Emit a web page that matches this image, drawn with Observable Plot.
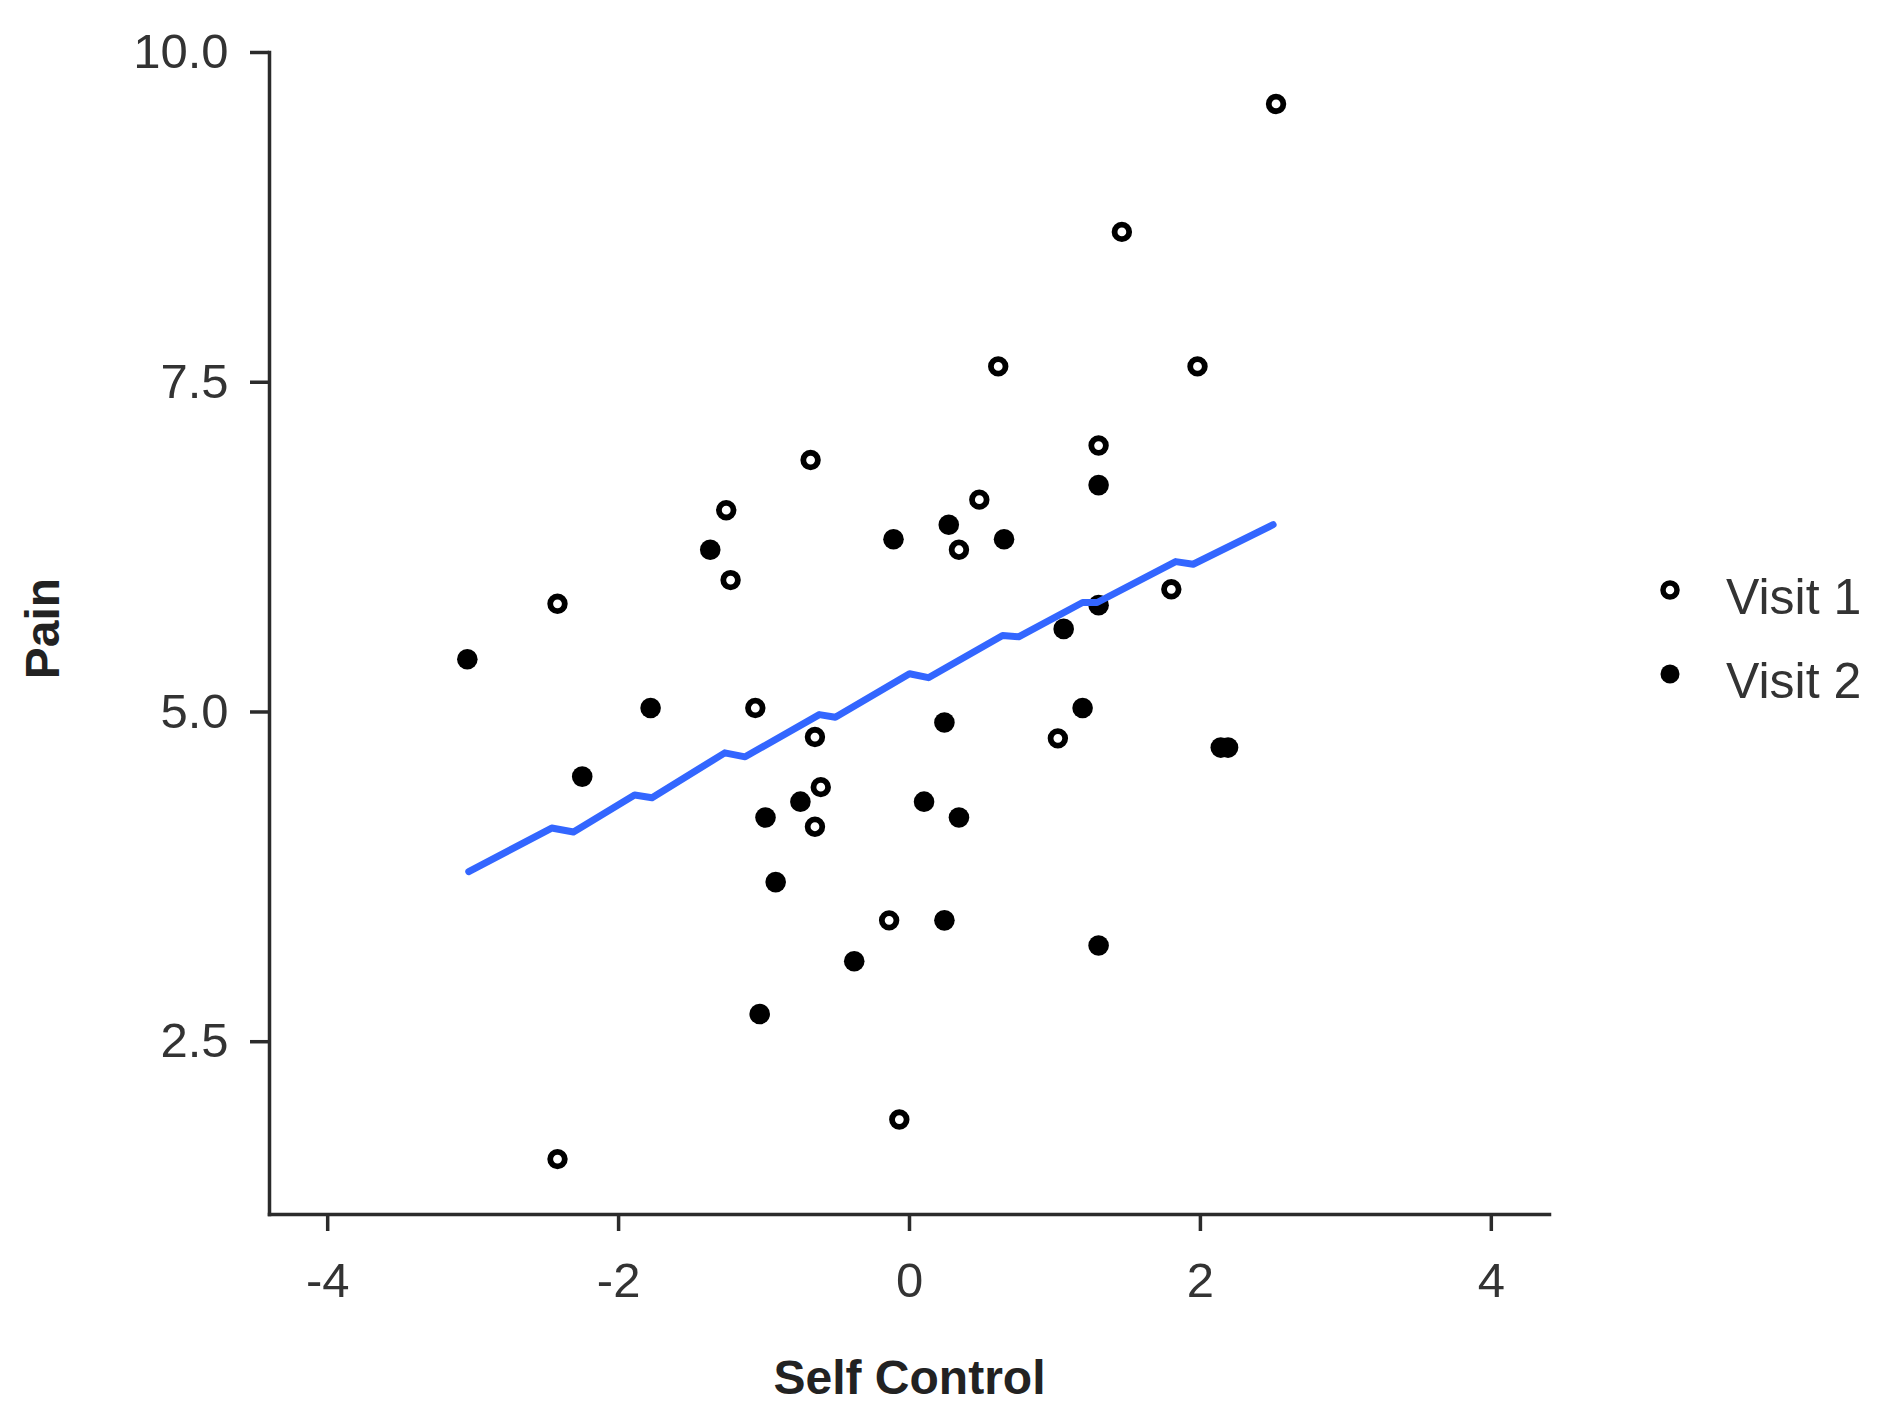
<!DOCTYPE html>
<html>
<head>
<meta charset="utf-8">
<script src="https://cdn.jsdelivr.net/npm/d3@7"></script>
<script src="https://cdn.jsdelivr.net/npm/@observablehq/plot@0.6"></script>
<style>
  html, body { margin: 0; padding: 0; background: #fff; }
  #wrap { position: relative; width: 1903px; height: 1427px; font-family: "Liberation Sans", Arial, sans-serif; }
  #legend { position: absolute; left: 1657px; top: 555px; }
  .item { display: flex; align-items: center; height: 84px; }
  .item svg { position: relative; top: -7px; margin-right: 43px; }
  .item span { font-size: 50px; line-height: 1; color: #333; }
</style>
</head>
<body>
<div id="wrap"><div id="legend"></div></div>
<script>
// ---- data ----
const seriesNames = ["Visit 1", "Visit 2"];

const visit1X = [2.52, 1.46, 0.61, 1.98, 1.30, -0.68, 0.48, -1.26, 0.34, -1.23, -2.42, 1.80, -1.06, -0.65, 1.02, -0.61, -0.65, -0.14, -0.07, -2.42];
const visit1Y = [9.61, 8.64, 7.62, 7.62, 7.02, 6.91, 6.61, 6.53, 6.23, 6.00, 5.82, 5.93, 5.03, 4.81, 4.80, 4.43, 4.13, 3.42, 1.91, 1.61];

const visit2X = [-3.04, -1.37, -0.11, 0.27, 0.65, 1.30, 1.06, 1.30, -1.78, -2.25, 1.19, 0.24, 2.14, 2.19, -0.75, -0.99, 0.10, 0.34, -0.92, 0.24, -0.38, 1.30, -1.03];
const visit2Y = [5.40, 6.23, 6.31, 6.42, 6.31, 6.72, 5.63, 5.81, 5.03, 4.51, 5.03, 4.92, 4.73, 4.73, 4.32, 4.20, 4.32, 4.20, 3.71, 3.42, 3.11, 3.23, 2.71];

const fitX = [-3.03, -2.46, -2.31, -1.89, -1.77, -1.27, -1.13, -0.62, -0.51, 0.00, 0.13, 0.64, 0.75, 1.19, 1.29, 1.83, 1.95, 2.50];
const fitY = [3.79, 4.12, 4.09, 4.37, 4.35, 4.69, 4.66, 4.98, 4.96, 5.29, 5.26, 5.58, 5.57, 5.83, 5.83, 6.14, 6.12, 6.42];

const xTicks = [-4, -2, 0, 2, 4];
const yTicks = [2.5, 5.0, 7.5, 10.0];
const xDomain = [-4.4, 4.4];
const yDomain = [1.19, 10];
const xLabel = "Self Control";
const yLabel = "Pain";

// ---- build tables ----
const v1 = visit1X.map((x, i) => ({x, y: visit1Y[i]}));
const v2 = visit2X.map((x, i) => ({x, y: visit2Y[i]}));
const fit = fitX.map((x, i) => ({x, y: fitY[i]}));

const ink = "#2b2b2b";
const blue = "#3366FF";

const chart = Plot.plot({
  width: 1903,
  height: 1427,
  marginLeft: 269,
  marginRight: 354,
  marginTop: 52,
  marginBottom: 213,
  style: {fontFamily: "'Liberation Sans', Arial, sans-serif", background: "white", color: ink},
  x: {domain: xDomain},
  y: {domain: yDomain},
  marks: [
    Plot.frame({anchor: "left", stroke: ink, strokeWidth: 3.5}),
    Plot.frame({anchor: "bottom", stroke: ink, strokeWidth: 3.5}),
    Plot.axisX({ticks: xTicks, tickSize: 17, tickPadding: 31, tickFormat: d => String(d),
      fontSize: 49, fill: "#333", stroke: ink, strokeWidth: 3.5, label: null}),
    Plot.axisY({ticks: yTicks, tickSize: 19, tickPadding: 22, tickFormat: d3.format(".1f"),
      fontSize: 49, fill: "#333", stroke: ink, strokeWidth: 3.5, label: null}),
    Plot.text([xLabel], {text: d => d, frameAnchor: "bottom", textAnchor: "middle", lineAnchor: "top", dy: 145,
      fontSize: 48, fontWeight: "bold", fill: "#222"}),
    Plot.text([yLabel], {text: d => d, frameAnchor: "left", textAnchor: "middle", lineAnchor: "top", rotate: -90, dx: -245, dy: -5,
      fontSize: 48, fontWeight: "bold", fill: "#222"}),
    Plot.dot(v1, {x: "x", y: "y", r: 7.3, stroke: "black", strokeWidth: 5.8, fill: "none"}),
    Plot.dot(v2, {x: "x", y: "y", r: 10.3, fill: "black", stroke: "none"}),
    Plot.line(fit, {x: "x", y: "y", stroke: blue, strokeWidth: 7, strokeLinejoin: "round", strokeLinecap: "round"})
  ]
});
document.getElementById("wrap").prepend(chart);

// ---- legend ----
const legend = document.getElementById("legend");
seriesNames.forEach((name, i) => {
  const item = document.createElement("div");
  item.className = "item";
  const filled = i === 1;
  item.innerHTML = `<svg width="26" height="26" viewBox="-13 -13 26 26">${
    filled ? '<circle r="9.5" fill="black"/>' : '<circle r="7" fill="none" stroke="black" stroke-width="5.5"/>'
  }</svg><span>${name}</span>`;
  legend.appendChild(item);
});
</script>
</body>
</html>
